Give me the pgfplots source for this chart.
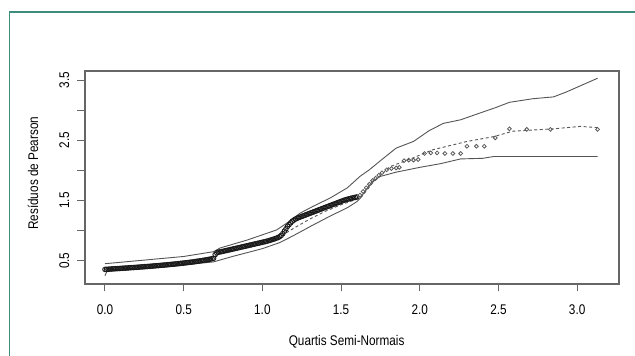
\documentclass[border=0pt]{standalone}
\usepackage{fontspec}
\setmainfont{Liberation Sans}[FakeStretch=0.84]
\usepackage{pgfplots}
\pgfplotsset{compat=1.18}
\definecolor{frameteal}{RGB}{62,140,124}
\definecolor{envgray}{RGB}{85,85,85}
\begin{document}
\begin{tikzpicture}
\path[use as bounding box] (0,0) rectangle (635pt,356pt);
\fill[white] (0,0) rectangle (635pt,356pt);
\draw[frameteal, line width=1.6pt] (9.3pt,-2pt) -- (9.3pt,344pt) -- (640pt,344pt);
\begin{axis}[
  at={(85pt,72pt)}, anchor=south west,
  scale only axis, width=534pt, height=213pt,
  xmin=-0.127, xmax=3.266, ymin=0.113, ymax=3.65,
  axis line style={draw=black!60, line width=1.1pt},
  tick style={draw=black!60, line width=1.0pt},
  xtick pos=bottom, ytick pos=left,
  tick align=outside, major tick length=7.5pt,
  xtick={0,0.5,...,3.0},
  ytick={0.5,1,...,3.5},
  yticklabels={0.5,,1.5,,2.5,,3.5},
  /pgf/number format/assume math mode=true,
  xticklabel={\pgfmathprintnumber[fixed,fixed zerofill,precision=1]{\tick}},
  ticklabel style={font=\fontsize{14}{16}\selectfont, inner sep=0pt},
  xticklabel style={anchor=north, yshift=-13pt},
  yticklabel style={xshift=-8pt, rotate=90, anchor=south},
  xlabel={Quartis Semi-Normais},
  ylabel={Resíduos de Pearson},
  label style={font=\fontsize{14}{16}\selectfont, inner sep=0pt},
  xlabel style={at={(axis description cs:0.49,-0.272)}, anchor=center},
  ylabel style={at={(axis description cs:-0.0974,0.52)}, anchor=center, rotate=0},
  clip=false,
]
% lower envelope
\addplot[envgray, line width=0.9pt] coordinates {
(0,0.25) (0.01,0.31) (0.03,0.35) (0.2,0.38) (0.5,0.43) (0.69,0.48) (0.81,0.57)
(1.0,0.70) (1.11,0.80) (1.2,0.92) (1.32,1.09) (1.43,1.24) (1.54,1.38) (1.60,1.48)
(1.62,1.53) (1.66,1.68) (1.70,1.82) (1.75,1.90) (1.85,1.97) (2.0,2.05) (2.13,2.11)
(2.26,2.19) (2.40,2.20) (2.47,2.23) (2.52,2.23) (3.13,2.23)};
% upper envelope
\addplot[envgray, line width=0.9pt] coordinates {
(0,0.45) (0.25,0.51) (0.5,0.57) (0.69,0.65) (0.73,0.71) (0.9,0.84) (1.09,1.01)
(1.17,1.15) (1.24,1.29) (1.32,1.40) (1.43,1.54) (1.54,1.71) (1.62,1.90) (1.68,2.01)
(1.75,2.16) (1.85,2.37) (1.96,2.48) (2.06,2.66) (2.15,2.78) (2.26,2.84) (2.38,2.95)
(2.48,3.04) (2.57,3.13) (2.72,3.19) (2.85,3.22) (2.93,3.30) (3.13,3.53)};
% mean (dashed)
\addplot[envgray, line width=0.9pt, dash pattern=on 3pt off 2.5pt] coordinates {
(0,0.36) (0.5,0.46) (0.69,0.55) (0.72,0.62) (1.0,0.80) (1.1,0.88) (1.2,1.04)
(1.3,1.19) (1.4,1.32) (1.5,1.43) (1.6,1.52) (1.63,1.56) (1.70,1.79) (1.81,2.06)
(1.96,2.21) (2.08,2.34) (2.30,2.48) (2.47,2.56) (2.59,2.65) (2.85,2.69) (3.02,2.73) (3.13,2.71)};
% residuals (dense part)
\addplot[only marks, mark=o, mark size=2.3pt, draw=black!90, line width=0.9pt] coordinates {
(0.00,0.355) (0.01,0.357) (0.02,0.358) (0.03,0.36) (0.04,0.362) (0.05,0.364) (0.06,0.366)
(0.07,0.367) (0.08,0.369) (0.09,0.37) (0.10,0.372) (0.11,0.374) (0.12,0.376) (0.13,0.377)
(0.14,0.379) (0.15,0.381) (0.16,0.383) (0.17,0.385) (0.18,0.386) (0.19,0.388) (0.20,0.39)
(0.21,0.392) (0.22,0.394) (0.23,0.396) (0.24,0.398) (0.25,0.40) (0.26,0.402) (0.27,0.404)
(0.28,0.406) (0.29,0.408) (0.30,0.41) (0.31,0.413) (0.32,0.415) (0.33,0.417) (0.34,0.419)
(0.35,0.421) (0.36,0.424) (0.37,0.426) (0.38,0.428) (0.39,0.431) (0.40,0.433) (0.41,0.436)
(0.42,0.438) (0.43,0.441) (0.44,0.443) (0.45,0.446) (0.46,0.449) (0.47,0.452) (0.48,0.455)
(0.49,0.458) (0.50,0.461) (0.51,0.464) (0.52,0.467) (0.53,0.47) (0.54,0.474) (0.55,0.477)
(0.56,0.48) (0.57,0.484) (0.58,0.488) (0.59,0.492) (0.60,0.496) (0.61,0.50) (0.62,0.504)
(0.63,0.508) (0.64,0.512) (0.65,0.517) (0.66,0.522) (0.67,0.527) (0.68,0.532) (0.69,0.54)
(0.70,0.60) (0.71,0.63) (0.72,0.64) (0.73,0.645) (0.74,0.65) (0.75,0.656) (0.76,0.662)
(0.77,0.668) (0.78,0.674) (0.79,0.68) (0.80,0.686) (0.81,0.692) (0.82,0.698) (0.83,0.704)
(0.84,0.71) (0.85,0.716) (0.86,0.722) (0.87,0.728) (0.88,0.734) (0.89,0.74) (0.90,0.746)
(0.91,0.752) (0.92,0.758) (0.93,0.764) (0.94,0.77) (0.95,0.776) (0.96,0.782) (0.97,0.788)
(0.98,0.794) (0.99,0.80) (1.00,0.806) (1.01,0.812) (1.02,0.818) (1.03,0.825) (1.04,0.832)
(1.05,0.84) (1.06,0.848) (1.07,0.856) (1.08,0.865) (1.09,0.875) (1.10,0.885) (1.11,0.90)
(1.12,0.92) (1.13,0.95) (1.14,0.99) (1.15,1.03) (1.16,1.07) (1.17,1.10) (1.18,1.13)
(1.19,1.155) (1.20,1.175) (1.21,1.19) (1.22,1.205) (1.23,1.215) (1.24,1.225) (1.25,1.235)
(1.26,1.245) (1.27,1.255) (1.28,1.265) (1.29,1.275) (1.30,1.285) (1.31,1.295) (1.32,1.305)
(1.33,1.315) (1.34,1.325) (1.35,1.335) (1.36,1.345) (1.37,1.355) (1.38,1.365) (1.39,1.375)
(1.40,1.385) (1.41,1.395) (1.42,1.405) (1.43,1.415) (1.44,1.425) (1.45,1.435) (1.46,1.445)
(1.47,1.455) (1.48,1.465) (1.49,1.475) (1.50,1.485) (1.51,1.495) (1.52,1.505) (1.53,1.513)
(1.54,1.52) (1.55,1.527) (1.56,1.534) (1.57,1.54) (1.58,1.546) (1.59,1.552) (1.60,1.558)};
% residuals (sparse part)
\addplot[only marks, mark=o, mark size=1.9pt, draw=black!65, line width=0.8pt] coordinates {
(1.62,1.59) (1.64,1.65) (1.66,1.71) (1.68,1.77) (1.70,1.83) (1.72,1.87) (1.74,1.92)
(1.76,1.96) (1.79,2.01) (1.82,2.03) (1.85,2.04) (1.87,2.05) (1.90,2.16) (1.93,2.17) (1.96,2.17)
(1.99,2.18) (2.03,2.28) (2.07,2.29) (2.11,2.29) (2.16,2.28) (2.21,2.28) (2.26,2.28)
(2.30,2.40) (2.36,2.40) (2.41,2.40) (2.48,2.54) (2.57,2.69) (2.68,2.68) (2.83,2.68) (3.13,2.68)};
\end{axis}
\end{tikzpicture}
\end{document}
